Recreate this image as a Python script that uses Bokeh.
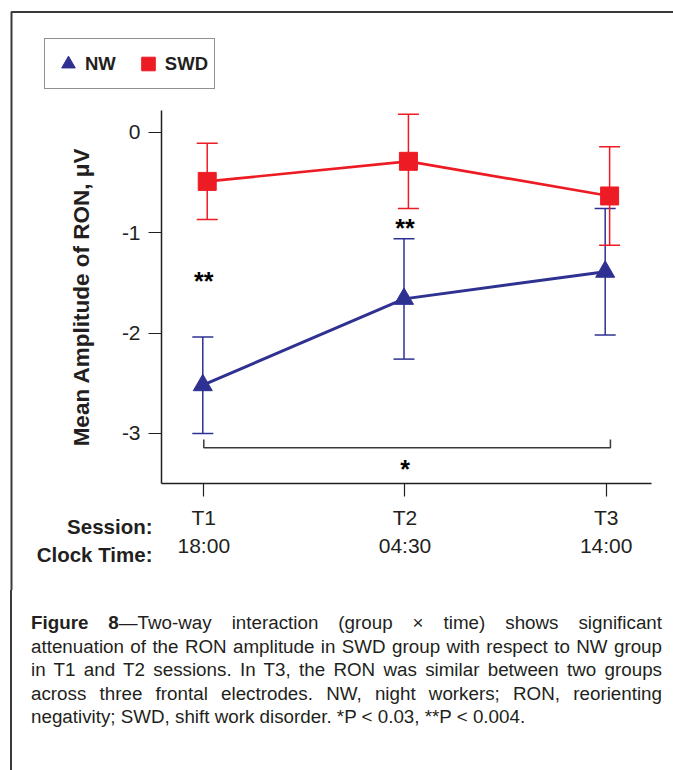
from bokeh.plotting import figure
from bokeh.models import (ColumnDataSource, Range1d, FixedTicker, LinearAxis, Legend,
                          LegendItem, Label, Whisker, TeeHead, Div)
from bokeh.layouts import column
from bokeh.core.properties import value
from bokeh.embed import file_html
from bokeh.resources import INLINE

# ---------------- data ----------------
sessions = ["T1", "T2", "T3"]
clock_times = ["18:00", "04:30", "14:00"]
nw_mean = [-2.52, -1.66, -1.39]
nw_err = [0.48, 0.60, 0.63]
swd_mean = [-0.49, -0.29, -0.635]
swd_err = [0.38, 0.47, 0.49]
y_ticks = [0, -1, -2, -3]
y_tick_labels = ["0", "-1", "-2", "-3"]
sig_marks = ["**", "**", "*"]
sig_session = [0, 1, 1]
sig_level = [-1.485, -0.958, -3.35]
bracket_y = -3.144
bracket_tip = -3.06

caption_lines = [
    "<b>Figure 8</b>\u2014Two-way interaction (group \u00d7 time) shows significant",
    "attenuation of the RON amplitude in SWD group with respect to NW group",
    "in T1 and T2 sessions. In T3, the RON was similar between two groups",
    "across three frontal electrodes. NW, night workers; RON, reorienting",
    "negativity; SWD, shift work disorder. *P &lt; 0.03, **P &lt; 0.004.",
]

# ---------------- styling ----------------
BLUE = "#2e3192"
RED = "#ed1c24"
INK = "#231f20"
FONT = "Liberation Sans"
W, H = 673, 590

# axis extents (data units) of the drawn plotting area
X_LO, X_HI = 0.79, 3.224
Y_LO, Y_HI = -3.498, 0.216

x_pos = [i + 1 for i in range(len(sessions))]
nw_x = [x - 0.005 for x in x_pos]
swd_x = [x + 0.017 for x in x_pos]

nw_src = ColumnDataSource(dict(x=nw_x, y=nw_mean,
                               lo=[m - e for m, e in zip(nw_mean, nw_err)],
                               hi=[m + e for m, e in zip(nw_mean, nw_err)]))
swd_src = ColumnDataSource(dict(x=swd_x, y=swd_mean,
                                lo=[m - e for m, e in zip(swd_mean, swd_err)],
                                hi=[m + e for m, e in zip(swd_mean, swd_err)]))

# the frame fills the whole canvas; axes are pinned inside it
p = figure(width=W, height=H, output_backend="svg", toolbar_location=None,
           x_range=Range1d(-0.01044, 3.3345), y_range=Range1d(-4.5647, 1.3118),
           min_border=0, min_border_left=0, min_border_right=0,
           min_border_top=0, min_border_bottom=0)
p.outline_line_color = None
p.xgrid.visible = False
p.ygrid.visible = False
p.background_fill_color = "white"
p.border_fill_color = "white"

# error bars
for src, col in ((nw_src, BLUE), (swd_src, RED)):
    w = Whisker(source=src, base="x", lower="lo", upper="hi", dimension="height",
                line_color=col, line_width=1.5, level="underlay",
                upper_head=TeeHead(size=21, line_color=col, line_width=1.5),
                lower_head=TeeHead(size=21, line_color=col, line_width=1.5))
    p.add_layout(w)

p.line("x", "y", source=swd_src, line_color=RED, line_width=2.7)
p.line("x", "y", source=nw_src, line_color=BLUE, line_width=3)
swd_sc = p.scatter("x", "y", source=swd_src, marker="square", size=18,
                   fill_color=RED, line_color=RED)
nw_sc = p.scatter("x", "y", source=nw_src, marker="triangle", size=19,
                  fill_color=BLUE, line_color=BLUE)

# significance bracket and stars
bx0 = x_pos[0]
bx1 = x_pos[-1] + 0.021
p.line([bx0, bx0, bx1, bx1], [bracket_tip, bracket_y, bracket_y, bracket_tip],
       line_color="#3a3a3a", line_width=1.5)
p.text(x=[x_pos[i] for i in sig_session], y=sig_level, text=sig_marks,
       text_font=value(FONT), text_font_style="bold",
       text_font_size="25px", text_align="center", text_baseline="alphabetic",
       text_color="black")

# axes
xa = p.xaxis[0]
xa.ticker = FixedTicker(ticks=x_pos)
xa.major_label_overrides = {x: s for x, s in zip(x_pos, sessions)}
ya = p.yaxis[0]
ya.ticker = FixedTicker(ticks=y_ticks)
ya.major_label_overrides = {t: s for t, s in zip(y_ticks, y_tick_labels)}
ya.axis_label = "Mean Amplitude of RON, \u03bcV"
ya.axis_label_text_font = FONT
ya.axis_label_text_font_size = "22.5px"
ya.axis_label_text_font_style = "bold"
ya.axis_label_text_color = INK
ya.axis_label_standoff = 25
for ax in (xa, ya):
    ax.axis_line_color = INK
    ax.axis_line_width = 1.5
    ax.major_tick_line_color = INK
    ax.major_tick_line_width = 1.2
    ax.major_tick_out = 13
    ax.major_tick_in = 0
    ax.minor_tick_line_color = None
    ax.major_label_text_font = FONT
    ax.major_label_text_font_size = "21px"
    ax.major_label_text_color = INK
xa.major_label_standoff = 10
ya.major_label_standoff = 8
xa.bounds = (X_LO, X_HI)
ya.bounds = (Y_LO, Y_HI)
xa.fixed_location = Y_LO
ya.fixed_location = X_LO

xa2 = LinearAxis(ticker=FixedTicker(ticks=x_pos),
                 major_label_overrides={x: s for x, s in zip(x_pos, clock_times)})
xa2.axis_line_color = None
xa2.major_tick_line_color = None
xa2.minor_tick_line_color = None
xa2.major_tick_out = 0
xa2.major_tick_in = 0
xa2.major_label_standoff = 51
xa2.major_label_text_font = FONT
xa2.major_label_text_font_size = "21px"
xa2.major_label_text_color = INK
xa2.bounds = (X_LO, X_HI)
xa2.fixed_location = Y_LO
p.add_layout(xa2, "below")

for txt, yy in (("Session:", 64.5), ("Clock Time:", 36)):
    p.add_layout(Label(x=152, y=yy, x_units="screen", y_units="screen", text=txt,
                       text_align="right", text_baseline="alphabetic",
                       text_font=FONT, text_font_size="20.5px",
                       text_font_style="bold", text_color=INK))

# outer frame (top + left edge of the figure box)
p.add_layout(Label(x=11, y=H - 11.5, x_units="screen", y_units="screen", text=" ",
                   anchor="top_left", padding=900, text_font_size="2px",
                   border_line_color="#3a3a3a", border_line_width=2,
                   background_fill_color=None))

legend = Legend(items=[LegendItem(label="NW", renderers=[nw_sc]),
                       LegendItem(label="SWD", renderers=[swd_sc])],
                location=(44, H - 89), orientation="horizontal",
                glyph_width=34, glyph_height=37, padding=6, spacing=15,
                label_standoff=0, margin=0,
                label_text_font=FONT, label_text_font_size="18.5px",
                label_text_font_style="bold", label_text_color=INK,
                border_line_color=INK, border_line_width=1.5,
                background_fill_color="white", background_fill_alpha=1)
p.add_layout(legend, "center")

parts = []
for i, line in enumerate(caption_lines):
    if i < len(caption_lines) - 1:
        style = "text-align:justify;text-align-last:justify;"
    else:
        style = "text-align:left;"
    parts.append('<div style="%s">%s</div>' % (style, line))
body = "".join(parts)
html = ('<div style="position:relative;width:673px;height:180px;">'
        '<div style="position:absolute;left:10px;top:0;width:2px;height:180px;background:#3a3a3a;"></div>'
        '<div style="position:absolute;left:31px;top:21px;width:631px;'
        "font-family:'Liberation Sans',Arial,sans-serif;font-size:18.8px;"
        'line-height:23.5px;color:#231f20;">' + body + '</div></div>')
div = Div(text=html, width=673, height=180, margin=0)

layout = column(p, div, spacing=0)
open("out.html", "w").write(file_html(layout, INLINE))
